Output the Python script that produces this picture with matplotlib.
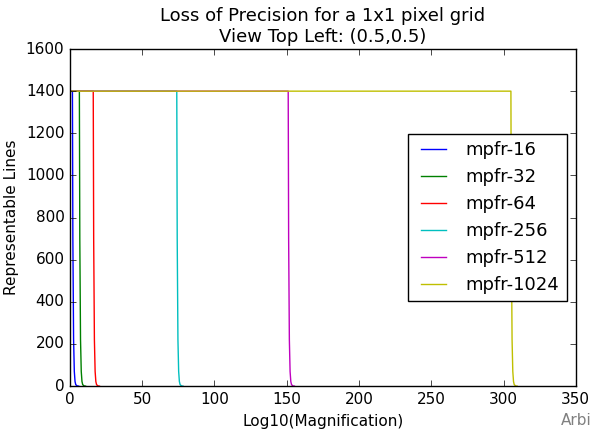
import matplotlib
matplotlib.use("Agg")
import matplotlib.pyplot as plt

# Representable lines vs log10 magnification
labels = ["mpfr-16", "mpfr-32", "mpfr-64", "mpfr-256", "mpfr-512", "mpfr-1024"]
colors = ["b", "g", "r", "c", "m", "y"]

x16 = [0, 1.7, 2.0, 2.5, 3.0, 3.5, 4.0, 5.0, 6.0]
x32 = [0, 6.5, 6.8, 7.3, 7.8, 8.3, 8.8, 9.8, 10.8]
x64 = [0, 16.1, 16.4, 16.9, 17.4, 17.9, 18.4, 19.4, 20.4]
x256 = [0, 73.9, 74.2, 74.7, 75.2, 75.7, 76.2, 77.2, 78.2]
x512 = [0, 151.0, 151.3, 151.8, 152.3, 152.8, 153.3, 154.3, 155.3]
x1024 = [0, 305.1, 305.4, 305.9, 306.4, 306.9, 307.4, 308.4, 309.4]
y_drop = [1400, 1400, 700, 221, 70, 22, 7, 1, 0]

xs = [x16, x32, x64, x256, x512, x1024]

plt.style.use("classic")
fig = plt.figure(figsize=(5.93, 4.30), dpi=100, facecolor="white")
ax = fig.add_axes([0.118, 0.102, 0.853, 0.784])

for x, c, lab in zip(xs, colors, labels):
    ax.plot(x, y_drop, color=c, label=lab)

ax.set_xlim(0, 350)
ax.set_ylim(0, 1600)
ax.set_xlabel("Log10(Magnification)", fontsize=11)
ax.set_ylabel("Representable Lines", fontsize=11)
ax.set_title("Loss of Precision for a 1x1 pixel grid\nView Top Left: (0.5,0.5)", fontsize=13)
ax.tick_params(labelsize=11)
ax.legend(loc="center right", fontsize=13)

fig.text(0.998, 0.005, "Arbi", color="gray", fontsize=11, ha="right", va="bottom")

fig.savefig("out.png", dpi=100, facecolor="white")
